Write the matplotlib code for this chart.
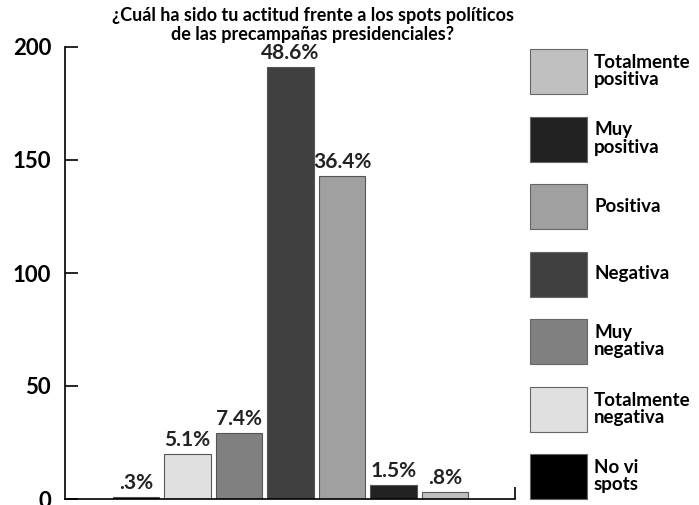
import matplotlib.pyplot as plt
from matplotlib.patches import Rectangle

# datos
categorias = ["No vi spots", "Totalmente negativa", "Muy negativa", "Negativa",
              "Positiva", "Muy positiva", "Totalmente positiva"]
valores = [1, 20, 29, 191, 143, 6, 3]
etiquetas = [".3%", "5.1%", "7.4%", "48.6%", "36.4%", "1.5%", ".8%"]
colores = ["#000000", "#e0e0e0", "#808080", "#404040", "#a0a0a0", "#222222", "#c0c0c0"]
yticks = [0, 50, 100, 150, 200]

leyenda_textos = ["Totalmente\npositiva", "Muy\npositiva", "Positiva", "Negativa",
                  "Muy\nnegativa", "Totalmente\nnegativa", "No vi\nspots"]
leyenda_colores = ["#c0c0c0", "#222222", "#a0a0a0", "#404040",
                   "#808080", "#e0e0e0", "#000000"]

titulo = "¿Cuál ha sido tu actitud frente a los spots políticos\nde las precampañas presidenciales?"

plt.rcParams['font.family'] = ['Lato', 'DejaVu Sans']
plt.rcParams['font.weight'] = 'bold'

fig = plt.figure(figsize=(6.99, 5.05), dpi=100)
ax = fig.add_axes([65 / 699, 6 / 505, 450 / 699, 452 / 505])

x = list(range(len(valores)))
barras = ax.bar(x, valores, width=0.9, color=colores, edgecolor="#555555", linewidth=0.8)
for b, lab in zip(barras, etiquetas):
    ax.annotate(lab, (b.get_x() + b.get_width() / 2, b.get_height()),
                xytext=(0, 3), textcoords="offset points",
                ha="center", va="bottom", fontsize=15, fontweight="bold", color="#222222")

ax.set_xlim(-1.38, 7.36)
ax.set_ylim(0, 200)
ax.set_yticks(yticks)
ax.set_yticklabels([str(v) for v in yticks], fontsize=16, fontweight="bold")
ax.set_xticks([7.36])
ax.set_xticklabels([""])
ax.tick_params(axis="y", direction="in", length=9, width=1.2, pad=10)
ax.tick_params(axis="x", direction="in", length=9, width=1.2)
for s in ["top", "right"]:
    ax.spines[s].set_visible(False)
for s in ["left", "bottom"]:
    ax.spines[s].set_linewidth(1.2)

fig.text(313 / 699, 1 - 25 / 505, titulo, ha="center", va="center",
         fontsize=13, fontweight="bold", linespacing=1.15)

# leyenda manual
lax = fig.add_axes([0, 0, 1, 1])
lax.set_xlim(0, 699)
lax.set_ylim(505, 0)
lax.axis("off")
for i, (txt, col) in enumerate(zip(leyenda_textos, leyenda_colores)):
    cy = 71 + i * 67.5
    lax.add_patch(Rectangle((530, cy - 22), 57, 45, facecolor=col, edgecolor="#666666", linewidth=0.8))
    lax.text(594, cy, txt, ha="left", va="center", fontsize=13.5, fontweight="bold", linespacing=1.0)

fig.savefig("out.png", dpi=100)
